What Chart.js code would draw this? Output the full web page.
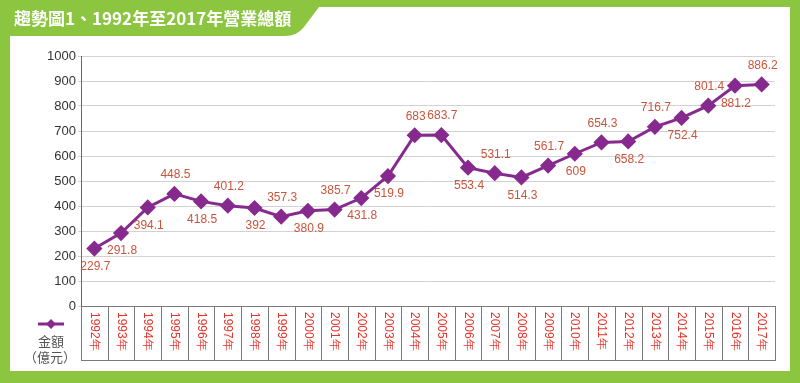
<!DOCTYPE html>
<html>
<head>
<meta charset="utf-8">
<script src="https://cdn.jsdelivr.net/npm/chart.js@4/dist/chart.umd.min.js"></script>
<style>
html,body{margin:0;padding:0;background:#fff;}
#wrap{width:800px;height:383px;}
</style>
</head>
<body>
<div id="wrap"><canvas id="c" width="800" height="383"></canvas></div>
<script>
const title = '趨勢圖1、1992年至2017年營業總額';
const categories = ['1992年','1993年','1994年','1995年','1996年','1997年','1998年','1999年','2000年','2001年','2002年','2003年','2004年','2005年','2006年','2007年','2008年','2009年','2010年','2011年','2012年','2013年','2014年','2015年','2016年','2017年'];
const amounts = [229.7,291.8,394.1,448.5,418.5,401.2,392,357.3,380.9,385.7,431.8,519.9,683,683.7,553.4,531.1,514.3,561.7,609,654.3,658.2,716.7,752.4,801.4,881.2,886.2];
const labelSide = ['b','b','b','a','b','a','b','a','b','a','b','b','a','a','b','a','b','a','b','a','b','a','b','a','b','a'];
const legendName = ['金額','（億元）'];
const yTicks = {min:0,max:1000,step:100};

const GREEN = '#8cc540';
const PURPLE = '#862a8e';
const LABEL_RED = '#c9553c';
const CAT_RED = '#e2332b';

const framePlugin = {
  id:'frame',
  beforeDraw(chart){
    const ctx = chart.ctx;
    ctx.save();
    ctx.fillStyle = GREEN;
    ctx.fillRect(0,0,800,383);
    ctx.fillStyle = '#fff';
    ctx.fillRect(10,7,780,364);
    ctx.fillStyle = GREEN;
    ctx.beginPath();
    ctx.moveTo(10,7);
    ctx.lineTo(319,7);
    ctx.lineTo(304,27);
    ctx.quadraticCurveTo(297,36,285,36);
    ctx.lineTo(10,36);
    ctx.closePath();
    ctx.fill();
    ctx.fillStyle = '#fff';
    ctx.font = 'bold 17px "Noto Sans CJK TC", "Noto Sans", sans-serif';
    ctx.textBaseline = 'middle';
    ctx.textAlign = 'left';
    ctx.fillText(title, 14, 19);
    ctx.restore();
  },
  afterDraw(chart){
    const ctx = chart.ctx;
    const xs = chart.scales.x;
    const area = chart.chartArea;
    const n = categories.length;
    const w = (area.right - area.left)/n;
    const top = area.bottom, bottom = 360;
    ctx.save();
    ctx.strokeStyle = '#7a7a7a';
    ctx.lineWidth = 1;
    for(let i=0;i<n;i++){
      const cx = xs.getPixelForValue(i);
      const l = Math.round(cx - w/2)+0.5;
      const r = Math.round(cx + w/2)+0.5;
      ctx.strokeRect(l, top+0.5, r-l, bottom-top);
      ctx.save();
      ctx.translate(cx, top+6);
      ctx.rotate(Math.PI/2);
      ctx.fillStyle = CAT_RED;
      ctx.font = '12px "Liberation Sans", Arial, sans-serif';
      ctx.textAlign = 'left';
      ctx.textBaseline = 'middle';
      ctx.fillText(categories[i], 0, 0);
      ctx.restore();
    }
    const lx = 51, ly = 324;
    ctx.strokeStyle = PURPLE;
    ctx.lineWidth = 3;
    ctx.beginPath();
    ctx.moveTo(lx-13, ly); ctx.lineTo(lx+13, ly); ctx.stroke();
    ctx.fillStyle = PURPLE;
    ctx.beginPath();
    ctx.moveTo(lx, ly-5); ctx.lineTo(lx+5, ly); ctx.lineTo(lx, ly+5); ctx.lineTo(lx-5, ly); ctx.closePath(); ctx.fill();
    ctx.fillStyle = '#555';
    ctx.font = '13px "Noto Sans CJK TC", sans-serif';
    ctx.textAlign = 'center';
    ctx.textBaseline = 'middle';
    ctx.fillText(legendName[0], lx, 341);
    ctx.fillText(legendName[1], lx-1, 357);
    ctx.restore();
  },
  afterDatasetsDraw(chart){
    const ctx = chart.ctx;
    const meta = chart.getDatasetMeta(0);
    ctx.save();
    ctx.fillStyle = LABEL_RED;
    ctx.font = '12px "Liberation Sans Narrow", "Liberation Sans", Arial, sans-serif';
    ctx.textAlign = 'center';
    ctx.textBaseline = 'middle';
    meta.data.forEach((pt,i)=>{
      const dy = labelSide[i]==='a' ? -19 : 18;
      ctx.fillText(String(amounts[i]), pt.x+1, pt.y+dy);
    });
    ctx.restore();
  }
};

new Chart(document.getElementById('c'), {
  type:'line',
  data:{
    labels:categories,
    datasets:[{
      label:legendName.join(''),
      data:amounts,
      borderColor:PURPLE,
      backgroundColor:PURPLE,
      borderWidth:3,
      pointStyle:'rectRot',
      pointRadius:6,
      pointHoverRadius:6,
      pointBackgroundColor:PURPLE,
      pointBorderColor:PURPLE,
      tension:0
    }]
  },
  options:{
    responsive:false,
    animation:false,
    devicePixelRatio:1,
    layout:{padding:{left:0,top:56,right:25,bottom:77}},
    plugins:{legend:{display:false},tooltip:{enabled:false}},
    scales:{
      x:{
        type:'category',
        offset:true,
        ticks:{display:false},
        grid:{display:false},
        border:{display:false},
        afterFit(s){ s.height = 0; }
      },
      y:{
        min:yTicks.min,max:yTicks.max,
        ticks:{stepSize:yTicks.step,color:'#333',padding:2,
          callback:(v)=>String(v),
          font:{family:'"Liberation Sans", Arial, sans-serif',size:13}},
        grid:{color:'#d2d2d2',lineWidth:1,tickLength:3,drawTicks:true},
        border:{display:true,color:'#666',width:1},
        afterFit(s){ s.width = 81; }
      }
    }
  },
  plugins:[framePlugin]
});
</script>
</body>
</html>
